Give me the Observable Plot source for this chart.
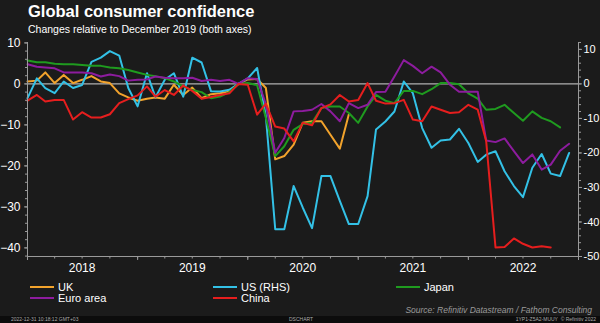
<!DOCTYPE html>
<html><head><meta charset="utf-8">
<script src="https://cdn.jsdelivr.net/npm/d3@7"></script>
<script src="https://cdn.jsdelivr.net/npm/@observablehq/plot@0.6"></script>
<style>
html,body{margin:0;padding:0;background:#1b1b1b;}
body{width:600px;height:323px;position:relative;overflow:hidden;font-family:"Liberation Sans",Arial,sans-serif;color:#fff;}
#title{position:absolute;left:28px;top:3px;font-size:16.5px;font-weight:bold;line-height:1;white-space:nowrap;}
#subtitle{position:absolute;left:28px;top:24px;font-size:10.5px;line-height:1;white-space:nowrap;}
#chart{position:absolute;left:0;top:36px;}
.leg{position:absolute;font-size:11px;line-height:1;white-space:nowrap;}
.sw{position:absolute;height:2px;width:24px;}
#source{position:absolute;right:8px;top:306px;font-size:8.5px;font-style:italic;color:#9a9a9a;white-space:nowrap;line-height:1;}
#footer{position:absolute;left:0;top:316px;width:600px;height:7px;background:#0c0c0c;font-size:5px;line-height:7px;color:#aaa;}
#footer span{position:absolute;top:0;white-space:nowrap;}
</style>
</head><body>
<div id="title">Global consumer confidence</div>
<div id="subtitle">Changes relative to December 2019 (both axes)</div>
<div id="chart"></div>
<div id="legend"></div>
<div id="source">Source: Refinitiv Datastream / Fathom Consulting</div>
<div id="footer"><span style="left:11px">2022-12-31 10:18:12 GMT+03</span><span style="left:289px">DSCHART</span><span style="right:4px">1YP1-Z5A2-MUUY &nbsp;© Refinitiv 2022</span></div>
<script>
// Categories
const months = d3.utcMonths(new Date(Date.UTC(2018,0,1)), new Date(Date.UTC(2023,0,1)));
const seriesNames = ["UK","US (RHS)","Japan","Euro area","China"];
const seriesColors = ["#f2a32c","#33c1e6","#1f9b1f","#8d1c9e","#e61e1e"];
const yearLabels = ["2018","2019","2020","2021","2022"];
const leftTicks = [-40,-30,-20,-10,0,10];
const rightTicks = [-50,-40,-30,-20,-10,0,10];

// Series values (monthly from Jan 2018, change vs Dec 2019)
const uk = [0.6,0.8,2.8,0.2,2.2,0.2,1.0,1.9,0.6,0.2,-2.3,-3.3,-4.1,-3.6,-3.3,-3.6,-0.2,-2.7,-0.9,-3.5,-2.5,-2.3,-1.9,0,1.1,1.2,-1.0,-18.4,-17.6,-14.8,-9.5,-9.1,-9.1,-12.4,-15.8,-7.4];
const us = [-4.1,1.6,-1.2,-2.7,0.7,-1.2,-0.3,6.4,7.6,9.5,8.2,-1.2,-6.5,3.1,-3.9,1.2,3.1,-3.7,7.6,6.2,-2.1,-2.2,-1.7,0,1.6,4.6,-9.4,-42.1,-42.1,-29.6,-35.8,-41.8,-26.7,-26.7,-33.9,-40.6,-40.6,-32.5,-13.2,-10.9,-8.0,0.7,-2.7,-12.8,-18.5,-16.4,-16.1,-13.0,-17.1,-22.6,-20.5,-19.5,-25.3,-29.6,-32.8,-24.3,-20.3,-26.0,-26.7,-20.0];
const japan = [5.7,5.3,5.3,4.9,4.8,4.8,4.6,4.4,4.4,4.0,3.8,3.4,2.8,2.2,1.9,1.4,0.6,-0.6,-1.5,-2.0,-3.5,-3.1,-2.0,0,0.2,-0.3,-8.3,-17.6,-15.2,-11.2,-9.8,-9.5,-5.9,-5.5,-5.5,-7.1,-9.5,-5.5,-2.7,-4.1,-4.7,-1.7,-1.7,-2.5,-1.3,0.2,0.2,-0.1,-2.3,-3.6,-6.3,-6.1,-5.1,-7.1,-9.0,-6.7,-8.3,-9.1,-10.6];
const euro = [4.8,4.2,4.0,3.8,2.8,2.8,2.8,2.6,1.8,2.3,1.9,0.8,1.0,1.1,1.8,1.5,1.4,1.4,1.5,0.7,1.0,0.7,1.0,0,1.4,1.2,-5.0,-16.8,-13.2,-6.7,-6.6,-6.3,-4.9,-6.7,-9.1,-4.7,-5.9,-5.1,-2.0,-1.9,1.8,5.8,4.4,2.6,4.2,2.8,-0.2,-1.9,-1.9,-1.9,-13.8,-14.2,-13.3,-16.4,-19.3,-17.2,-20.9,-19.7,-16.3,-14.6];
const china = [-4.1,-2.7,-4.3,-3.9,-3.9,-8.7,-6.9,-8.2,-8.2,-7.4,-4.7,-3.7,-2.8,-0.6,-3.1,-1.5,-2.7,-0.4,-1.7,-3.6,-3.2,-2.7,-2.3,0,-0.2,-7.5,-4.8,-10.4,-10.9,-14.0,-9.5,-10.1,-5.9,-5.0,-2.7,-4.3,-3.9,0.2,-4.1,-4.8,-4.7,-3.9,-8.7,-9.1,-5.5,-6.3,-7.1,-6.9,-5.1,-6.3,-13.9,-39.9,-39.8,-37.7,-39.0,-39.9,-39.6,-39.9];

const yMin = -42.1, yMax = 10.1;
const rhsFactor = yMin / -50; // RHS -50 aligns with LHS bottom
const allSeries = [uk, us, japan, euro, china];
const rows = [];
allSeries.forEach((arr, s) => arr.forEach((v, i) => {
  if (v != null) rows.push({series: seriesNames[s], date: months[i], value: s === 1 ? v * rhsFactor : v});
}));

const x0 = months[0], x1 = new Date(Date.UTC(2023,0,1));
const quarters = d3.utcMonths(x0, x1, 3).concat([x1]);
const yearStarts = d3.utcYears(x0, x1).concat([x1]);
const midYears = yearLabels.map(y => new Date(Date.UTC(+y, 6, 1)));
const axisColor = "#9a9a9a";
const font = '"Liberation Sans", Arial, sans-serif';

const chart = Plot.plot({
  width: 600, height: 246,
  marginLeft: 27, marginRight: 22, marginTop: 6, marginBottom: 26,
  style: {background: "transparent", color: "#fff", fontFamily: font, fontSize: "12px", overflow: "visible"},
  x: {type: "utc", domain: [x0, x1], label: null},
  y: {domain: [yMin, yMax], label: null},
  color: {domain: seriesNames, range: seriesColors},
  marks: [
    Plot.ruleY([0], {stroke: "#b0b0b0", strokeWidth: 1.2}),
    ...seriesNames.map(name => Plot.line(rows.filter(d => d.series === name), {x: "date", y: "value", stroke: "series", strokeWidth: 2})),
    Plot.ruleX([x0], {stroke: axisColor}),
    Plot.ruleX([x1], {stroke: axisColor}),
    Plot.ruleY([yMin], {stroke: axisColor}),
    Plot.axisY(d3.range(-42, 11, 2), {anchor: "left", tickSize: 2, tickFormat: () => "", stroke: axisColor, label: null}),
    Plot.axisY(leftTicks, {anchor: "left", tickSize: 3, tickPadding: 4, stroke: axisColor, fill: "#fff", fontSize: 12, label: null}),
    Plot.axisY(d3.range(-50, 13, 2).map(v => v * rhsFactor), {anchor: "right", tickSize: 2, tickFormat: () => "", stroke: axisColor, label: null}),
    Plot.axisY(rightTicks.map(v => v * rhsFactor), {anchor: "right", tickSize: 3, tickPadding: 2, stroke: axisColor, fill: "#fff", fontSize: 11, tickFormat: d => String(Math.round(d / rhsFactor)), label: null}),
    Plot.axisX(quarters, {tickSize: 2.5, tickFormat: () => "", stroke: axisColor, label: null}),
    Plot.axisX(yearStarts, {tickSize: 4, tickFormat: () => "", stroke: axisColor, label: null}),
    Plot.axisX(midYears, {tickSize: 0, tickPadding: 7, tickFormat: d3.utcFormat("%Y"), fill: "#fff", fontSize: 12, label: null})
  ]
});
document.getElementById("chart").appendChild(chart);

// Legend
const legendPos = [[30, 287], [213, 287], [396, 287], [30, 298], [213, 298]];
const legend = document.getElementById("legend");
seriesNames.forEach((name, i) => {
  const [lx, ly] = legendPos[i];
  const sw = document.createElement("div");
  sw.className = "sw"; sw.style.left = lx + "px"; sw.style.top = (ly - 1) + "px"; sw.style.background = seriesColors[i];
  const t = document.createElement("div");
  t.className = "leg"; t.style.left = (lx + 28) + "px"; t.style.top = (ly - 5.5) + "px"; t.textContent = name;
  legend.appendChild(sw); legend.appendChild(t);
});
</script>
</body></html>
